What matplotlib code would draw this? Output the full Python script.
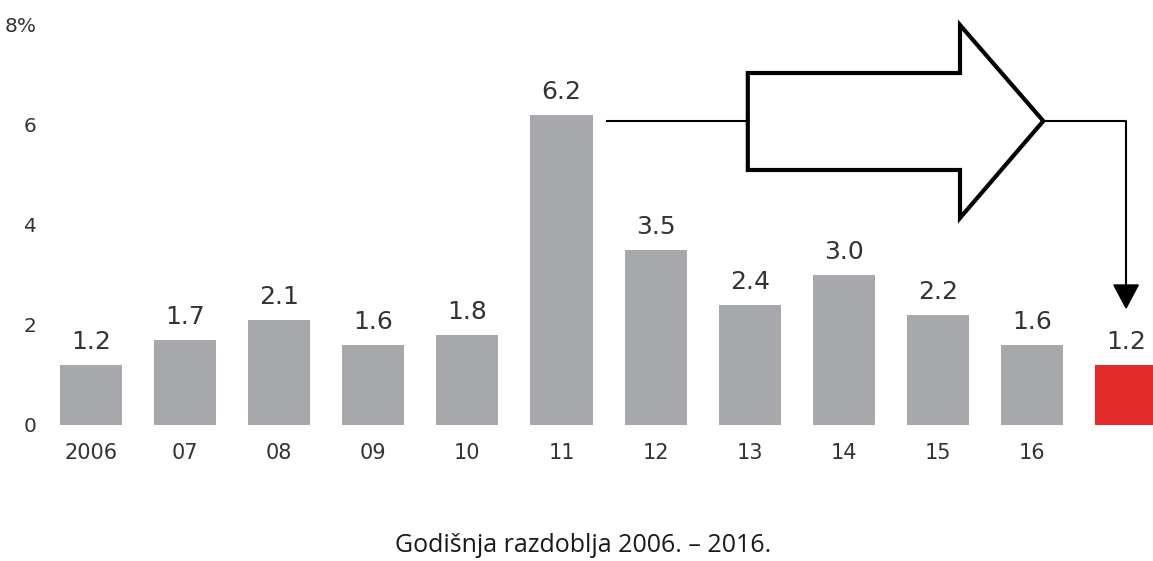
import numpy as np
import matplotlib
matplotlib.use('Agg')
import matplotlib.pyplot as plt
from matplotlib.patches import Polygon

# data
years = ['2006', '07', '08', '09', '10', '11', '12', '13', '14', '15', '16', '']
values = [1.2, 1.7, 2.1, 1.6, 1.8, 6.2, 3.5, 2.4, 3.0, 2.2, 1.6, 1.2]
labels = ['1.2', '1.7', '2.1', '1.6', '1.8', '6.2', '3.5', '2.4', '3.0', '2.2', '1.6', '1.2']
yticks = [0, 2, 4, 6, 8]
ytick_labels = ['0', '2', '4', '6', '8%']
caption = 'Godišnja razdoblja 2006. – 2016.'

GREY = '#a7a8ac'
RED = '#e32b2b'
TXT = '#333333'

W, H = 1153, 561
fig = plt.figure(figsize=(W / 100, H / 100), dpi=100)
ax = fig.add_axes([45 / W, (H - 425) / H, 1 - 45 / W, 400 / H])

x = np.arange(len(values))
colors = [GREY] * (len(values) - 1) + [RED]
ax.bar(x, values, width=0.66, color=colors, clip_on=False)

for xi, v, lab in zip(x, values, labels):
    ax.text(xi, v + 0.22, lab, ha='center', va='bottom', fontsize=18,
            color=TXT)

ax.set_xlim(-0.489, 11.286)
ax.set_ylim(0, 8)
ax.set_xticks(x)
ax.set_xticklabels(years, fontsize=15, color=TXT)
ax.set_yticks(yticks)
ax.set_yticklabels(ytick_labels, fontsize=14.5, color=TXT)
ax.tick_params(axis='both', length=0)
ax.tick_params(axis='x', pad=13)
ax.tick_params(axis='y', pad=6)
for s in ax.spines.values():
    s.set_visible(False)

# connector + big outline arrow from the 2011 bar to the last bar
y_line = values[5] - 0.12
ax.plot([5.48, 6.98], [y_line, y_line], color='black', lw=1.5, clip_on=False)
arrow = Polygon([(6.98, 5.1), (6.98, 7.04), (9.235, 7.04), (9.235, 8.0),
                 (10.12, y_line), (9.235, 4.14), (9.235, 5.1)],
                closed=True, facecolor='white', edgecolor='black', lw=3,
                joinstyle='miter', clip_on=False)
ax.add_patch(arrow)
ax.plot([10.12, 11.0, 11.0], [y_line, y_line, 2.8], color='black', lw=1.5,
        clip_on=False)
head = Polygon([(11.0 - 0.13, 2.8), (11.0 + 0.13, 2.8), (11.0, 2.34)],
               closed=True, facecolor='black', edgecolor='black', clip_on=False)
ax.add_patch(head)

fig.text(583 / W, 1 - 546 / H, caption, ha='center', va='center',
         fontsize=18, color='#1a1a1a', family=['Open Sans', 'DejaVu Sans'])

fig.savefig('out.png', dpi=100)
